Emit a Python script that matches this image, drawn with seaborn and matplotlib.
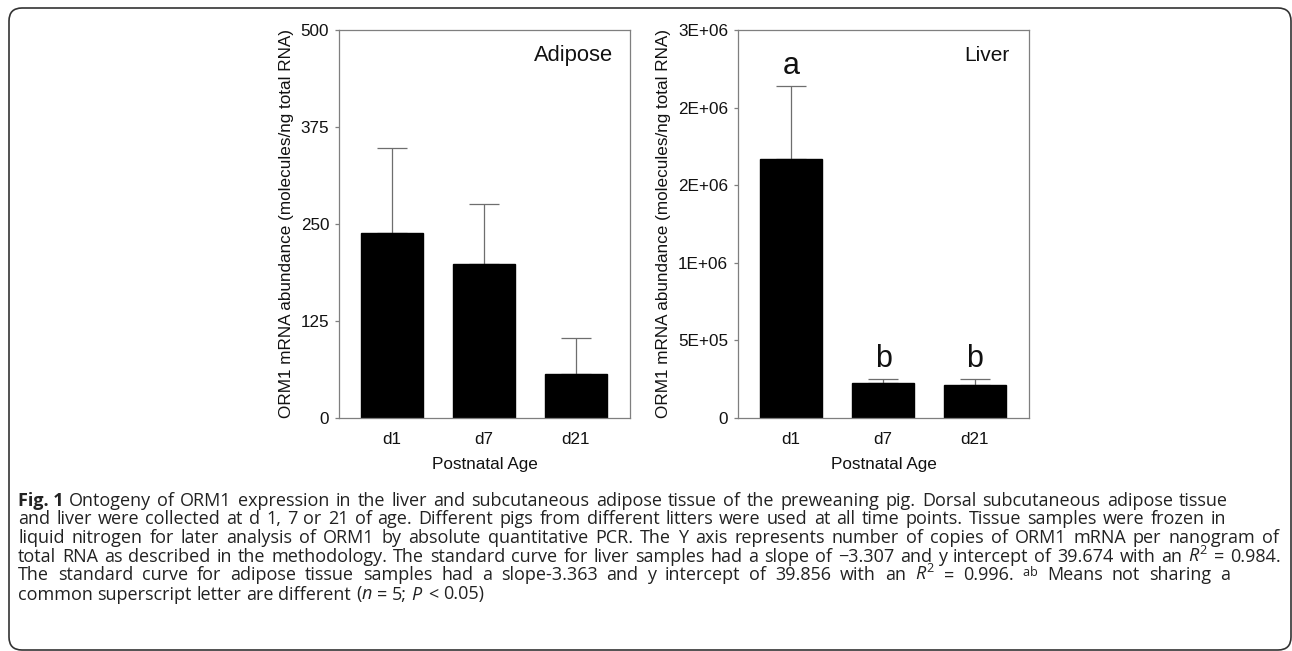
import numpy as np
import pandas as pd
import matplotlib
matplotlib.use("Agg")
import matplotlib.pyplot as plt
import seaborn as sns
from matplotlib.patches import FancyBboxPatch
from matplotlib.transforms import IdentityTransform

sns.set_theme(style="white")
plt.rcParams['font.family'] = ['Liberation Sans', 'DejaVu Sans']
plt.rcParams['mathtext.fontset'] = 'custom'
plt.rcParams['mathtext.rm'] = 'Open Sans'
plt.rcParams['mathtext.it'] = 'Open Sans:italic'

days = ["d1", "d7", "d21"]
adipose_mean = [238, 199, 57]
adipose_sem = [110, 77, 46]
liver_mean = [1666000, 226000, 213000]
liver_sem = [475000, 25000, 38000]
liver_letters = ["a", "b", "b"]
adipose_ticks = [0, 125, 250, 375, 500]
liver_ticks = [0, 500000, 1000000, 1500000, 2000000, 2500000]
liver_ticklabels = ["0", "5E+05", "1E+06", "2E+06", "2E+06", "3E+06"]
ylabel = "ORM1 mRNA abundance (molecules/ng total RNA)"
xlabel = "Postnatal Age"

W, H = 1292, 651
fig = plt.figure(figsize=(W / 100, H / 100), dpi=100)

spine_c = "#7f7f7f"
err_c = "#6e6e6e"
FS = 12.3


def panel(rect, means, sems, title, title_x, title_fs, ticks, ticklabels, ylim):
    ax = fig.add_axes(rect)
    df = pd.DataFrame({"day": days, "value": means})
    sns.barplot(data=df, x="day", y="value", color="black", width=0.67,
                saturation=1, edgecolor="black", ax=ax, zorder=2)
    ax.errorbar(range(len(days)), means, yerr=[np.zeros(len(sems)), sems],
                fmt="none", ecolor=err_c, elinewidth=0.9, capsize=11,
                capthick=0.9, zorder=1)
    ax.set_xlim(-0.58, 2.59)
    ax.set_ylim(*ylim)
    ax.set_yticks(ticks)
    ax.set_yticklabels(ticklabels)
    for s in ax.spines.values():
        s.set_color(spine_c)
        s.set_linewidth(0.9)
        s.set_visible(True)
    ax.tick_params(axis="y", which="both", left=True, length=3, width=0.9,
                   color=spine_c, labelsize=FS, pad=4, labelcolor="#111111")
    ax.tick_params(axis="x", bottom=False, labelsize=FS, pad=4,
                   labelcolor="#111111")
    ax.set_xlabel(xlabel, fontsize=FS, labelpad=7, color="#111111")
    ax.set_ylabel(ylabel, fontsize=FS, labelpad=5, color="#111111")
    ax.text(title_x, 0.935, title, transform=ax.transAxes, ha="right",
            va="center", fontsize=title_fs, color="#111111")
    return ax


ax1 = panel([339 / W, 1 - 418 / H, 291 / W, 388 / H], adipose_mean,
            adipose_sem, "Adipose", 1 - 17 / 291, 15.8, adipose_ticks,
            [str(t) for t in adipose_ticks], (0, 500))
ax2 = panel([738 / W, 1 - 418 / H, 291 / W, 388 / H], liver_mean,
            liver_sem, "Liver", 1 - 20 / 291, 15, liver_ticks,
            liver_ticklabels, (0, 2500000))

for i, (m, s, lt) in enumerate(zip(liver_mean, liver_sem, liver_letters)):
    ax2.annotate(lt, (i, m + s), xytext=(0, 8.6), textcoords="offset points",
                 ha="center", va="baseline", fontsize=22, color="#111111")

# rounded frame (pixel coordinates)
frame = FancyBboxPatch((9, 1), 1291 - 9, 643 - 1,
                       boxstyle="round,pad=0,rounding_size=13",
                       transform=IdentityTransform(), fill=False,
                       edgecolor="#333333", linewidth=1.2)
fig.patches.append(frame)

# caption, placed word by word (justified like the reference)
CFS = 13.0
cap_font = ['Open Sans', 'DejaVu Sans']
cap_c = "#222222"
lines = [
    "Ontogeny of ORM1 expression in the liver and subcutaneous adipose tissue of the preweaning pig. Dorsal subcutaneous adipose tissue",
    "and liver were collected at d 1, 7 or 21 of age. Different pigs from different litters were used at all time points. Tissue samples were frozen in",
    "liquid nitrogen for later analysis of ORM1 by absolute quantitative PCR. The Y axis represents number of copies of ORM1 mRNA per nanogram of",
    r"total RNA as described in the methodology. The standard curve for liver samples had a slope of −3.307 and y intercept of 39.674 with an $R^2$ = 0.984.",
    r"The standard curve for adipose tissue samples had a slope-3.363 and y intercept of 39.856 with an $R^2$ = 0.996. $^{\mathrm{ab}}$ Means not sharing a",
    r"common superscript letter are different ($n$ = 5; $P$ < 0.05)",
]
right_edges = [1228, 1226, 1279, 1281, 1230, None]
baselines = [506, 524.5, 543, 561.5, 580.5, 599.5]

renderer = fig.canvas.get_renderer()
t0 = fig.text(18 / W, 1 - baselines[0] / H, "Fig. 1", fontsize=CFS,
              fontweight="bold", family=cap_font, va="baseline", ha="left",
              color=cap_c)
x_start0 = t0.get_window_extent(renderer).x1 + 5

probe = fig.text(0, 0, "a a", fontsize=CFS, family=cap_font)
sw = probe.get_window_extent(renderer).width
probe.set_text("aa")
sw -= probe.get_window_extent(renderer).width
probe.remove()

for li, (ln, rx, by) in enumerate(zip(lines, right_edges, baselines)):
    x0 = x_start0 if li == 0 else 18
    words = ln.split(" ")
    texts = [fig.text(0, 1 - by / H, w, fontsize=CFS, family=cap_font,
                      va="baseline", ha="left", color=cap_c) for w in words]
    widths = [t.get_window_extent(renderer).width for t in texts]
    if rx is None:
        gap = sw
    else:
        gap = (rx - x0 - sum(widths)) / (len(words) - 1)
    x = x0
    for t, w in zip(texts, widths):
        t.set_x(x / W)
        x += w + gap

fig.savefig("out.png", dpi=100)
